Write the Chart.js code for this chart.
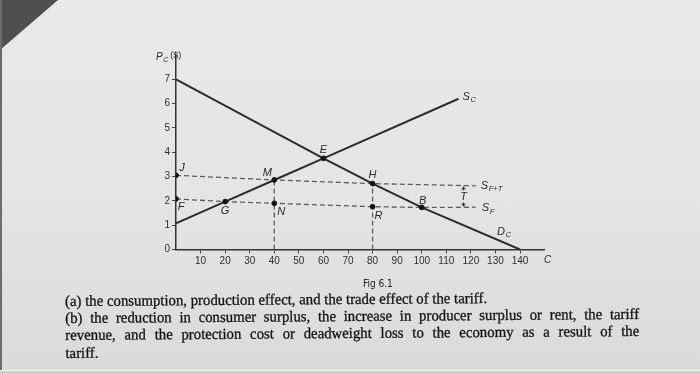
<!DOCTYPE html>
<html lang="en">
<head>
<meta charset="UTF-8">
<title>Fig 6.1</title>
<script src="https://cdn.jsdelivr.net/npm/chart.js"></script>
<style>
    html, body { margin: 0; padding: 0; }
    body {
        width: 700px; height: 374px; overflow: hidden; position: relative;
        background: linear-gradient(180deg, #e9e9e7 0%, #e4e4e2 55%, #dadad8 100%);
    }
    #corner { position: absolute; left: 0; top: 0; width: 60px; height: 52px; background: #4f4f4f;
              clip-path: polygon(0 0, 58px 0, 0 50px); }
    #edge { position: absolute; left: 0; top: 0; width: 2px; height: 374px; background: #6c6c6c; }
    #bottom { position: absolute; left: 0; top: 370px; width: 700px; height: 4px; background: #cfcfcd;
              border-top: 1px solid #f2f2f0; }
    #chart { position: absolute; left: 0; top: 0; }
    #fig { position: absolute; left: 363px; top: 278px; color: #222; line-height: 11.5px;
           font: 10px 'Liberation Sans Narrow', 'DejaVu Sans Condensed', sans-serif; }
    #txt { position: absolute; left: 65px; top: 292px; color: #121212;
           font: 15.3px 'Liberation Serif', serif; line-height: 17.2px;
           -webkit-text-stroke: 0.3px #121212;
           transform-origin: 0 0; white-space: nowrap; }
    #txt .j { text-align: justify; text-align-last: justify; }
</style>
</head>
<body>
<div id="corner"></div>
<div id="edge"></div>
<div id="bottom"></div>
<canvas id="chart" width="700" height="374"></canvas>
<div id="fig">Fig 6.1</div>
<div id="txt">
    <div><span id="la">(a) the consumption, production effect, and the trade effect of the tariff.</span></div>
    <div class="j">(b) the reduction in consumer surplus, the increase in producer surplus or rent, the tariff</div>
    <div class="j">revenue, and the protection cost or deadweight loss to the economy as a result of the</div>
    <div>tariff.</div>
</div>
<script>
// Marcas de los ejes
const xTicks = [10, 20, 30, 40, 50, 60, 70, 80, 90, 100, 110, 120, 130, 140];
const yTicks = [0, 1, 2, 3, 4, 5, 6, 7];

const demandQ = [0, 60, 80, 100, 140];
const demandP = [7, 3.75, 2.71, 1.73, 0];

// Curva de oferta S_C
const supplyQ = [0, 20, 40, 60, 115];
const supplyP = [1.08, 1.97, 2.86, 3.75, 6.2];

// Oferta extranjera con arancel (S_F+T) y libre comercio (S_F)
const tariffQ = [0, 40, 80, 122];
const tariffP = [3.05, 2.86, 2.71, 2.62];
const freeQ = [0, 20, 40, 80, 100, 122];
const freeP = [2.08, 1.97, 1.9, 1.76, 1.73, 1.74];

// Puntos marcados
const pointNames = ['J', 'F', 'G', 'M', 'N', 'E', 'H', 'R', 'B'];
const pointQ = [0, 0, 20, 40, 40, 60, 80, 80, 100];
const pointP = [3.05, 2.08, 1.97, 2.86, 1.9, 3.75, 2.71, 1.76, 1.73];

// Líneas verticales bajo M y H
const dropQ = [40, 80];
const dropP = [2.86, 2.71];

// Flecha del arancel T
const arrowQ = 117;

const toXY = (qs, ps) => qs.map((q, i) => ({ x: q, y: ps[i] }));

const INK = '#2c2c2c';
const DASH = '#5e5e5e';
const FONT = "'Liberation Sans', Arial, sans-serif";

// Desplazamiento de cada etiqueta respecto a su punto (px)
const pointLabelOffset = {
    J: [6, -7], F: [5, 8], G: [0, 9], M: [-7, -7], N: [7, 9],
    E: [0, -8], H: [0, -9], R: [6, 9], B: [1, -7]
};

const dashedSet = (data) => ({
    data, showLine: true, pointRadius: 0, borderColor: DASH, borderWidth: 1.3,
    borderDash: [5, 3], order: 3
});

const datasets = [
    { data: toXY(pointQ, pointP), pointRadius: 2.4, pointBackgroundColor: '#111', pointBorderColor: '#111', order: 0 },
    { data: toXY(demandQ, demandP), showLine: true, pointRadius: 0, borderColor: INK, borderWidth: 2, order: 1 },
    { data: toXY(supplyQ, supplyP), showLine: true, pointRadius: 0, borderColor: INK, borderWidth: 2, order: 1 },
    dashedSet(toXY(tariffQ, tariffP)),
    dashedSet(toXY(freeQ, freeP)),
    ...dropQ.map((q, i) => dashedSet([{ x: q, y: 0 }, { x: q, y: dropP[i] }]))
];

// Texto con subíndice
function drawSub(ctx, x, y, main, sub, size, align) {
    ctx.font = `italic ${size}px ${FONT}`;
    const w1 = ctx.measureText(main).width;
    ctx.font = `italic ${size * 0.7}px ${FONT}`;
    const w2 = sub ? ctx.measureText(sub).width : 0;
    let x0 = align === 'center' ? x - (w1 + w2) / 2 : x;
    ctx.textAlign = 'left';
    ctx.font = `italic ${size}px ${FONT}`;
    ctx.fillText(main, x0, y);
    if (sub) {
        ctx.font = `italic ${size * 0.7}px ${FONT}`;
        ctx.fillText(sub, x0 + w1 + 0.5, y + size * 0.3);
    }
    return x0 + w1 + w2;
}

const labelsPlugin = {
    id: 'labels',
    afterDatasetsDraw(chart) {
        const { ctx, scales: { x, y } } = chart;
        ctx.save();
        ctx.fillStyle = '#2a2a2a';
        ctx.textBaseline = 'middle';

        // Letras de los puntos
        pointNames.forEach((name, i) => {
            const [dx, dy] = pointLabelOffset[name];
            drawSub(ctx, x.getPixelForValue(pointQ[i]) + dx, y.getPixelForValue(pointP[i]) + dy, name, '', 11, 'center');
        });

        // Nombres de las curvas
        const sEnd = supplyQ.length - 1;
        drawSub(ctx, x.getPixelForValue(supplyQ[sEnd]) + 4, y.getPixelForValue(supplyP[sEnd]) - 2, 'S', 'C', 11);
        const tEnd = tariffQ.length - 1;
        drawSub(ctx, x.getPixelForValue(tariffQ[tEnd]) + 5, y.getPixelForValue(tariffP[tEnd]), 'S', 'F+T', 11);
        const fEnd = freeQ.length - 1;
        drawSub(ctx, x.getPixelForValue(freeQ[fEnd]) + 6, y.getPixelForValue(freeP[fEnd]) + 1, 'S', 'F', 11);
        const dEnd = demandQ.length - 1;
        drawSub(ctx, x.getPixelForValue(demandQ[dEnd]) - 23, y.getPixelForValue(demandP[dEnd]) - 18, 'D', 'C', 11);

        // Flecha T entre S_F y S_F+T
        const ax = x.getPixelForValue(arrowQ);
        const top = y.getPixelForValue(tariffP[tEnd]) + 1;
        const bot = y.getPixelForValue(freeP[fEnd]) - 1;
        const mid = (top + bot) / 2;
        ctx.strokeStyle = '#333';
        ctx.lineWidth = 1;
        ctx.beginPath();
        ctx.moveTo(ax, top); ctx.lineTo(ax, mid - 6);
        ctx.moveTo(ax, mid + 6); ctx.lineTo(ax, bot);
        ctx.moveTo(ax - 2, top + 3); ctx.lineTo(ax, top); ctx.lineTo(ax + 2, top + 3);
        ctx.moveTo(ax - 2, bot - 3); ctx.lineTo(ax, bot); ctx.lineTo(ax + 2, bot - 3);
        ctx.stroke();
        drawSub(ctx, ax, mid, 'T', '', 11, 'center');

        // Títulos de los ejes
        drawSub(ctx, x.right + 3, y.bottom + 11, 'C', '', 10, 'center');
        const px = drawSub(ctx, x.left - 20, y.top + 2, 'P', 'C', 10);
        ctx.font = `9px ${FONT}`;
        ctx.fillText(' ($)', px, y.top + 1);
        ctx.restore();
    }
};

const commonAxis = {
    grid: { drawOnChartArea: false, drawTicks: true, tickLength: 4, color: '#444', lineWidth: 1 },
    border: { color: '#333', width: 1.5 },
    ticks: { font: { family: 'Liberation Sans', size: 10 }, color: '#2e2e2e', padding: 2, autoSkip: false, maxRotation: 0 }
};

new Chart(document.getElementById('chart').getContext('2d'), {
    type: 'scatter',
    data: { datasets },
    options: {
        responsive: false,
        animation: false,
        devicePixelRatio: 1,
        layout: { padding: { left: 146, right: 155.4, top: 55, bottom: 104.5 } },
        plugins: { legend: { display: false }, tooltip: { enabled: false } },
        scales: {
            x: {
                ...commonAxis, type: 'linear', min: 0, max: 150,
                afterFit: (s) => { s.height = 20; },
                afterBuildTicks: (s) => { s.ticks = xTicks.map(v => ({ value: v })); }
            },
            y: {
                ...commonAxis, type: 'linear', min: 0, max: 8,
                afterFit: (s) => { s.width = 30; },
                afterBuildTicks: (s) => { s.ticks = yTicks.map(v => ({ value: v })); }
            }
        }
    },
    plugins: [labelsPlugin]
});

// Ajustar el texto de abajo al ancho de la foto
const txt = document.getElementById('txt');
const s = 422 / document.getElementById('la').getBoundingClientRect().width;
txt.style.width = (574 / s) + 'px';
txt.style.transform = `rotate(-0.4deg) scaleX(${s})`;
</script>
</body>
</html>
